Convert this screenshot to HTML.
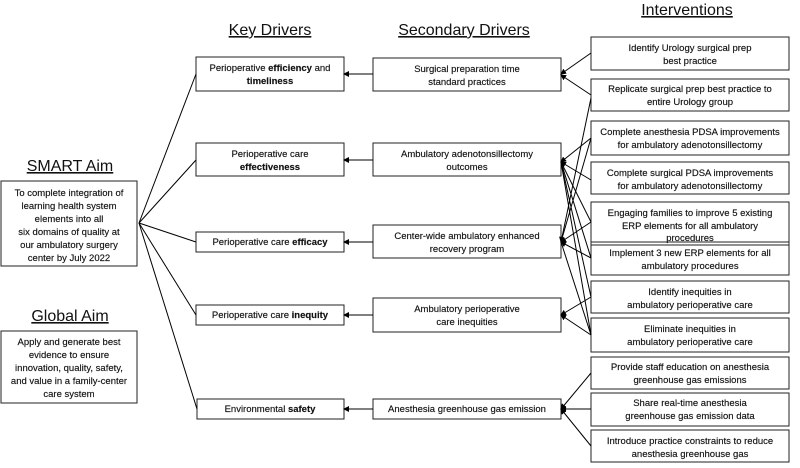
<!DOCTYPE html>
<html><head><meta charset="utf-8"><style>
body{margin:0;background:#fff}
svg text{font-family:"Liberation Sans",sans-serif;fill:#111}
.t text{stroke:#111;stroke-width:0.15}
</style></head><body>
<svg width="800" height="463" viewBox="0 0 800 463" xmlns="http://www.w3.org/2000/svg">
<defs><marker id="a" markerWidth="6" markerHeight="6" refX="5" refY="3" orient="auto" markerUnits="userSpaceOnUse"><path d="M0,0 L6,3 L0,6z" fill="#000"/></marker></defs>
<g font-size="16" text-anchor="middle">
<text x="270" y="35" text-decoration="underline">Key Drivers</text>
<text x="464" y="35" text-decoration="underline">Secondary Drivers</text>
<text x="687" y="15" text-decoration="underline">Interventions</text>
<text x="70" y="171" text-decoration="underline">SMART Aim</text>
<text x="70" y="321" text-decoration="underline">Global Aim</text>
</g>
<g fill="none" stroke="#222" stroke-width="1">
<rect x="1" y="181" width="136" height="85"/>
<rect x="1" y="331" width="136" height="72"/>
<rect x="196" y="57" width="148" height="34"/>
<rect x="196" y="143" width="148" height="33"/>
<rect x="196" y="232" width="148" height="20"/>
<rect x="196" y="305" width="148" height="20"/>
<rect x="197" y="399" width="147" height="20"/>
<rect x="373" y="58" width="188" height="33"/>
<rect x="373" y="143" width="188" height="33"/>
<rect x="373" y="225" width="188" height="33"/>
<rect x="373" y="298" width="188" height="34"/>
<rect x="373" y="399" width="188" height="20"/>
<rect x="591" y="37" width="198" height="33"/>
<rect x="591" y="79" width="198" height="32"/>
<rect x="591" y="121" width="198" height="34"/>
<rect x="591" y="162" width="198" height="32"/>
<rect x="591" y="202" width="198" height="43"/>
<rect x="591" y="242" width="198" height="33"/>
<rect x="591" y="281" width="198" height="32"/>
<rect x="591" y="318" width="198" height="34"/>
<rect x="591" y="357" width="198" height="32"/>
<rect x="591" y="393" width="198" height="33"/>
<rect x="591" y="430" width="198" height="32"/>
</g>
<g stroke="#000" stroke-width="1" fill="none">
<line x1="139" y1="223" x2="196" y2="74"/>
<line x1="139" y1="223" x2="196" y2="160"/>
<line x1="139" y1="223" x2="196" y2="242"/>
<line x1="139" y1="223" x2="196" y2="315"/>
<line x1="139" y1="223" x2="197" y2="409"/>
<line x1="373" y1="74" x2="344" y2="74" marker-end="url(#a)"/>
<line x1="373" y1="160" x2="344" y2="160" marker-end="url(#a)"/>
<line x1="373" y1="242" x2="344" y2="242" marker-end="url(#a)"/>
<line x1="373" y1="315" x2="344" y2="315" marker-end="url(#a)"/>
<line x1="373" y1="409" x2="344" y2="409" marker-end="url(#a)"/>
<line x1="591" y1="53" x2="561" y2="74" marker-end="url(#a)"/>
<line x1="591" y1="95" x2="561" y2="75" marker-end="url(#a)"/>
<line x1="591" y1="138" x2="561" y2="162" marker-end="url(#a)"/>
<line x1="591" y1="180" x2="561" y2="162" marker-end="url(#a)"/>
<line x1="561" y1="162" x2="591" y2="222"/>
<line x1="561" y1="162" x2="591" y2="258"/>
<line x1="561" y1="162" x2="591" y2="297"/>
<line x1="561" y1="162" x2="591" y2="335"/>
<line x1="591" y1="98" x2="561" y2="242" marker-end="url(#a)"/>
<line x1="591" y1="138" x2="561" y2="242"/>
<line x1="591" y1="222" x2="561" y2="242" marker-end="url(#a)"/>
<line x1="591" y1="258" x2="561" y2="242" marker-end="url(#a)"/>
<line x1="561" y1="242" x2="591" y2="335"/>
<line x1="591" y1="297" x2="561" y2="315" marker-end="url(#a)"/>
<line x1="591" y1="335" x2="561" y2="315" marker-end="url(#a)"/>
<line x1="591" y1="373" x2="561" y2="409" marker-end="url(#a)"/>
<line x1="591" y1="409" x2="561" y2="409" marker-end="url(#a)"/>
<line x1="591" y1="446" x2="561" y2="409" marker-end="url(#a)"/>
</g>
<g class="t" font-size="9.5" text-anchor="middle">
<text x="69" y="196">To complete integration of</text>
<text x="69" y="209">learning health system</text>
<text x="69" y="222">elements into all</text>
<text x="69" y="235">six domains of quality at</text>
<text x="69" y="248">our ambulatory surgery</text>
<text x="69" y="261">center by July 2022</text>
<text x="69" y="345">Apply and generate best</text>
<text x="69" y="358">evidence to ensure</text>
<text x="69" y="371">innovation, quality, safety,</text>
<text x="69" y="384">and value in a family-center</text>
<text x="69" y="397">care system</text>
<text x="270" y="71">Perioperative <tspan font-weight="bold">efficiency</tspan> and</text>
<text x="270" y="84" font-weight="bold">timeliness</text>
<text x="270" y="157">Perioperative care</text>
<text x="270" y="170" font-weight="bold">effectiveness</text>
<text x="270" y="245">Perioperative care <tspan font-weight="bold">efficacy</tspan></text>
<text x="270" y="318">Perioperative care <tspan font-weight="bold">inequity</tspan></text>
<text x="270" y="412">Environmental <tspan font-weight="bold">safety</tspan></text>
<text x="467" y="72">Surgical preparation time</text>
<text x="467" y="85">standard practices</text>
<text x="467" y="157">Ambulatory adenotonsillectomy</text>
<text x="467" y="170">outcomes</text>
<text x="467" y="239">Center-wide ambulatory enhanced</text>
<text x="467" y="252">recovery program</text>
<text x="467" y="312">Ambulatory perioperative</text>
<text x="467" y="325">care inequities</text>
<text x="467" y="412">Anesthesia greenhouse gas emission</text>
<text x="690" y="51">Identify Urology surgical prep</text>
<text x="690" y="64">best practice</text>
<text x="690" y="92">Replicate surgical prep best practice to</text>
<text x="690" y="105">entire Urology group</text>
<text x="690" y="135">Complete anesthesia PDSA improvements</text>
<text x="690" y="148">for ambulatory adenotonsillectomy</text>
<text x="690" y="176">Complete surgical PDSA improvements</text>
<text x="690" y="189">for ambulatory adenotonsillectomy</text>
<text x="690" y="216">Engaging families to improve 5 existing</text>
<text x="690" y="229">ERP elements for all ambulatory</text>
<text x="690" y="241">procedures</text>
<text x="690" y="256">Implement 3 new ERP elements for all</text>
<text x="690" y="269">ambulatory procedures</text>
<text x="690" y="295">Identify inequities in</text>
<text x="690" y="308">ambulatory perioperative care</text>
<text x="690" y="332">Eliminate inequities in</text>
<text x="690" y="345">ambulatory perioperative care</text>
<text x="690" y="370">Provide staff education on anesthesia</text>
<text x="690" y="383">greenhouse gas emissions</text>
<text x="690" y="406">Share real-time anesthesia</text>
<text x="690" y="419">greenhouse gas emission data</text>
<text x="690" y="444">Introduce practice constraints to reduce</text>
<text x="690" y="457">anesthesia greenhouse gas</text>
</g>
</svg>
</body></html>
